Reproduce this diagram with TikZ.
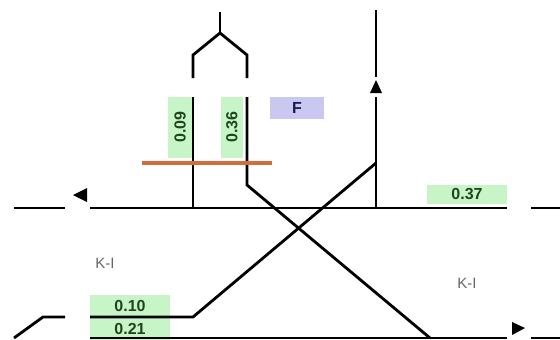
\documentclass[tikz,border=0pt]{standalone}
\usepackage{fontspec}
\setmainfont{Liberation Sans}
\usepackage{tikz}
\usepackage{color}
\definecolor{lightgreen}{RGB}{200, 245, 200}
\definecolor{darkgreen}{RGB}{30, 70, 30}
\definecolor{lavender}{RGB}{200, 200, 240}
\definecolor{navy}{RGB}{25, 25, 80}
\definecolor{rust}{RGB}{212, 108, 62}

\tikzset{
    track/.style={line width=2.8pt,line cap=butt},
    valbox/.style={fill=lightgreen,inner sep=0pt,text=darkgreen,font=\bfseries\fontsize{16}{16}\selectfont},
    zone/.style={text=black!60,font=\fontsize{15}{15}\selectfont}
}

\begin{document}
\begin{tikzpicture}[x=1pt,y=-1pt]
        \useasboundingbox (0,0) rectangle (560,340);

        % track points
        \coordinate (v1) at (14,208);
        \coordinate (v2) at (65,208);
        \coordinate (v3) at (90,208);
        \coordinate (v4) at (507,208);
        \coordinate (v5) at (531,208);
        \coordinate (v6) at (560,208);
        \coordinate (s1) at (193,208);
        \coordinate (s2) at (376,208);
        \coordinate (s3) at (376,163);
        \coordinate (s4) at (376,97);
        \coordinate (s5) at (376,77);
        \coordinate (s6) at (376,10);
        \coordinate (p1) at (193,97);
        \coordinate (p2) at (247,97);
        \coordinate (p3) at (247,185);
        \coordinate (p4) at (193,78);
        \coordinate (p5) at (247,78);
        \coordinate (p6) at (193,55);
        \coordinate (p7) at (247,55);
        \coordinate (p8) at (220,33);
        \coordinate (p9) at (220,12);
        \coordinate (b1) at (14,338);
        \coordinate (b2) at (43,317);
        \coordinate (b3) at (65,317);
        \coordinate (b4) at (90,317);
        \coordinate (b5) at (193,317);
        \coordinate (b6) at (90,338);
        \coordinate (b7) at (430,338);
        \coordinate (b8) at (507,338);
        \coordinate (b9) at (531,338);
        \coordinate (b10) at (560,338);

        % labels
        \node[valbox,rotate=90,minimum width=61pt,minimum height=24pt] (L009) at (180,127) {0.09};
        \node[valbox,rotate=90,minimum width=61pt,minimum height=22pt] (L036) at (232,127) {0.36};
        \node[fill=lavender,inner sep=0pt,minimum width=54pt,minimum height=22pt,text=navy,font=\bfseries\fontsize{16}{16}\selectfont] (F) at (297,108) {F};
        \node[valbox,minimum width=80pt,minimum height=19pt] (L037) at (467,194.5) {0.37};
        \node[valbox,minimum width=80pt,minimum height=22pt] (L010) at (130,306) {0.10};
        \node[valbox,minimum width=80pt,minimum height=22pt] (L021) at (130,328.5) {0.21};
        \node[zone] (Z1) at (105,263) {K-I};
        \node[zone] (Z2) at (467,283) {K-I};

        % tracks
        \draw[track] (v1) -- (v2);
        \draw[track] (v3) -- (v4);
        \draw[track] (v5) -- (v6);
        \draw[track] (s6) -- (s5);
        \draw[track] (s4) -- (s2);
        \draw[track] (s3) -- (b5) -- (b4);
        \draw[track] (b3) -- (b2) -- (b1);
        \draw[track] (b6) -- (b8);
        \draw[track] (b9) -- (b10);
        \draw[track] (p1) -- (s1);
        \draw[track] (p2) -- (p3) -- (b7);
        \draw[track] (p4) -- (p6) -- (p8) -- (p7) -- (p5);
        \draw[track] (p8) -- (p9);
        \draw[rust,line width=4.5pt] (142,163) -- (272,163);

        % direction marks
        \fill (73,195) -- (87,188) -- (87,202) -- cycle;
        \fill (376,80) -- (370,93) -- (382,93) -- cycle;
        \fill (525,328) -- (512,322) -- (512,335) -- cycle;
    \end{tikzpicture}
\end{document}
